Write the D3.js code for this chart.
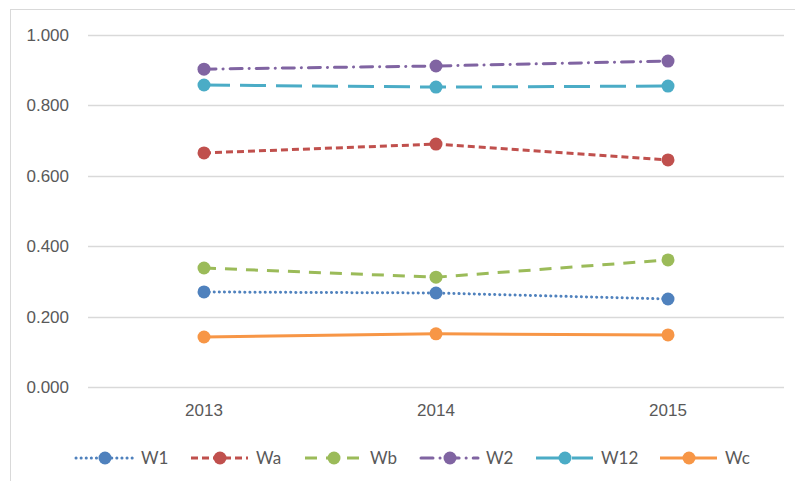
<!DOCTYPE html>
<meta charset="utf-8">
<head>
<script src="https://d3js.org/d3.v7.min.js"></script>
<style>
  body { margin: 0; background: #fff; font-family: "Lato", "Open Sans", sans-serif; }
  svg text { fill: #595959; }
</style>
</head>
<body>
<div id="my_dataviz"></div>
<script>

// data
var years = ["2013", "2014", "2015"];
var seriesNames = ["W1", "Wa", "Wb", "W2", "W12", "Wc"];
var w1  = [0.270, 0.267, 0.250];
var wa  = [0.665, 0.690, 0.645];
var wb  = [0.338, 0.312, 0.361];
var w2  = [0.903, 0.912, 0.926];
var w12 = [0.858, 0.852, 0.855];
var wc  = [0.142, 0.151, 0.148];
var yTicks = [0, 0.2, 0.4, 0.6, 0.8, 1.0];

var values = [w1, wa, wb, w2, w12, wc];
var colors = ["#4F81BD", "#C0504D", "#9BBB59", "#8064A2", "#4BACC6", "#F79646"];
var dashes = ["0.1,5", "7,4", "12,9", "12,7,0.1,7", "26,10", null];

var width = 795, height = 481;
var plot = {left: 88, right: 784, top: 35, bottom: 387};

var svg = d3.select("#my_dataviz")
  .append("svg")
    .attr("width", width)
    .attr("height", height);

// chart frame
svg.append("rect")
  .attr("x", 10.5).attr("y", 9.5)
  .attr("width", 800).attr("height", 500)
  .attr("fill", "none")
  .attr("stroke", "#d9d9d9");

var x = d3.scaleBand()
  .domain(years)
  .range([plot.left, plot.right]);

var y = d3.scaleLinear()
  .domain([0, 1])
  .range([plot.bottom, plot.top]);

// gridlines
svg.append("g")
  .selectAll("line")
  .data(yTicks)
  .enter()
  .append("line")
    .attr("x1", plot.left).attr("x2", plot.right)
    .attr("y1", function(d) { return Math.round(y(d)) + 0.5 })
    .attr("y2", function(d) { return Math.round(y(d)) + 0.5 })
    .attr("stroke", "#d9d9d9")
    .attr("stroke-width", 1.5);

// y labels
var yAxis = svg.append("g")
  .attr("transform", "translate(" + (plot.left - 19) + ",0)")
  .call(d3.axisLeft(y).tickValues(yTicks).tickSize(0).tickPadding(0).tickFormat(d3.format(".3f")));
yAxis.select(".domain").remove();
yAxis.selectAll("text").style("font-size", "17px").style("fill", "#595959");

// x labels
var xAxis = svg.append("g")
  .attr("transform", "translate(0," + plot.bottom + ")")
  .call(d3.axisBottom(x).tickSize(0).tickPadding(17));
xAxis.select(".domain").remove();
xAxis.selectAll("text").style("font-size", "17px").style("fill", "#595959");

var line = d3.line()
  .x(function(d, i) { return x(years[i]) + x.bandwidth() / 2 })
  .y(function(d) { return y(d) });

values.forEach(function(vals, s) {
  svg.append("path")
    .datum(vals)
    .attr("d", line)
    .attr("fill", "none")
    .attr("stroke", colors[s])
    .attr("stroke-width", 3)
    .attr("stroke-linecap", s == 0 || s == 3 ? "round" : "butt")
    .attr("stroke-dasharray", dashes[s]);
  svg.selectAll(".dot" + s)
    .data(vals)
    .enter()
    .append("circle")
      .attr("cx", function(d, i) { return x(years[i]) + x.bandwidth() / 2 })
      .attr("cy", function(d) { return y(d) })
      .attr("r", 6.5)
      .style("fill", colors[s]);
});

// legend
var legendX = [76, 191, 305, 421, 536, 660];
var legend = svg.append("g").attr("transform", "translate(0,458)");
seriesNames.forEach(function(name, s) {
  var g = legend.append("g").attr("transform", "translate(" + legendX[s] + ",0)");
  g.append("line")
    .attr("x1", 0).attr("x2", 57)
    .attr("stroke", colors[s])
    .attr("stroke-width", 3)
    .attr("stroke-linecap", s == 0 || s == 3 ? "round" : "butt")
    .attr("stroke-dasharray", dashes[s]);
  g.append("circle")
    .attr("cx", 29).attr("r", 6.5)
    .style("fill", colors[s]);
  g.append("text")
    .attr("x", 65).attr("dy", "0.35em")
    .style("font-size", "17px")
    .text(name);
});

</script>
</body>
